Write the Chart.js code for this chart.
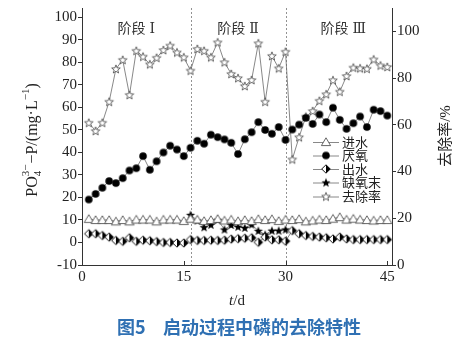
<!DOCTYPE html>
<html><head><meta charset="utf-8">
<script src="https://cdn.jsdelivr.net/npm/chart.js@4/dist/chart.umd.min.js"></script>
<style>html,body{margin:0;padding:0;background:#fff}#wrap{width:474px;height:343px;position:relative}</style>
</head><body><div id="wrap"><canvas id="c" width="474" height="343"></canvas></div>
<script>
// ---- data ----
const days = [1,2,3,4,5,6,7,8,9,10,11,12,13,14,15,16,17,18,19,20,21,22,23,24,25,26,27,28,29,30,31,32,33,34,35,36,37,38,39,40,41,42,43,44,45];
const influent = [10.5,10.0,10.0,10.0,9.4,10.0,9.4,10.2,10.2,10.2,9.4,10.2,10.2,10.2,9.6,10.6,10.2,9.6,10.0,10.5,9.8,10.2,9.5,10.0,9.6,10.4,10.0,10.4,9.6,10.2,10.0,10.4,9.4,9.8,10.2,10.0,10.6,11.3,10.2,10.6,10.2,10.0,9.8,10.0,10.0];
const anaerobic = [19.1,21.6,24.3,27.3,26.4,28.6,32.0,33.0,38.4,32.3,36.1,40.0,43.0,41.3,38.4,42.1,45.2,43.9,47.9,46.8,45.8,44.3,39.3,45.9,49.0,53.5,50.0,48.3,51.3,45.6,50.2,52.4,55.4,52.7,56.9,53.5,59.9,54.5,50.5,53.0,56.0,51.3,59.0,58.4,56.4];
const effluent = [3.9,3.9,3.1,2.4,0.9,0.5,2.1,0.5,1.0,0.8,0.4,0.0,0.0,-0.2,-0.2,1.3,0.9,0.9,1.0,0.9,1.0,1.5,1.7,1.9,2.1,0.1,2.4,1.2,1.2,0.6,5.3,3.9,3.1,2.7,2.4,2.1,1.6,2.4,1.6,1.3,1.3,1.3,1.3,1.3,1.3];
const anoxicDays = [16,17,18,19,20,21,22,23,24,25,26,27,28,29,30];
const anoxicEnd = [12.3,9.8,6.8,7.9,10.1,5.8,7.8,7.0,6.5,8.0,5.2,3.5,5.3,5.3,5.8];
const removal = [60.9,57.4,60.9,69.9,83.9,87.8,72.8,91.7,89.2,85.9,88.7,92.0,93.9,91.0,88.9,83.2,92.5,91.7,88.9,95.3,86.8,81.8,80.0,76.6,79.2,94.9,69.9,89.5,84.2,91.3,45.2,54.7,63.5,65.9,70.3,73.1,79.1,74.2,80.9,84.5,84.2,84.0,88.0,85.4,84.8];
const xTicks = [0,15,30,45];
const yLeftTicks = [-10,0,10,20,30,40,50,60,70,80,90,100];
const yRightTicks = [0,20,40,60,80,100];
const phaseBounds = [16,30];
const phaseWord = '阶段';
const phaseNums = ['Ⅰ','Ⅱ','Ⅲ'];
const phaseCenters = [8,23,38.5];
const seriesNames = ['进水','厌氧','出水','缺氧末','去除率'];
const leftTitle = ['PO','4','3−','−P/(mg·L','−1',')'];
const rightTitle = '去除率/%';
const xTitle = ['t','/d'];
const caption = ['图5','启动过程中磷的去除特性'];

// ---- marker images ----
function mk(size, fn){const c=document.createElement('canvas');c.width=c.height=size;const g=c.getContext('2d');fn(g,size/2);return c;}
function starPath(g,cx,cy,R,r){g.beginPath();for(let i=0;i<10;i++){const a=-Math.PI/2+i*Math.PI/5;const rr=i%2?r:R;const x=cx+rr*Math.cos(a),y=cy+rr*Math.sin(a);i?g.lineTo(x,y):g.moveTo(x,y);}g.closePath();}
const triImg = mk(12,(g,c)=>{g.beginPath();g.moveTo(c,c-4.2);g.lineTo(c+4.6,c+3.6);g.lineTo(c-4.6,c+3.6);g.closePath();g.fillStyle='#fff';g.fill();g.strokeStyle='#555';g.lineWidth=0.9;g.stroke();});
const circImg = mk(10,(g,c)=>{g.beginPath();g.arc(c,c,3.8,0,Math.PI*2);g.fillStyle='#000';g.fill();});
const diaImg = mk(12,(g,c)=>{g.beginPath();g.moveTo(c,c-4.2);g.lineTo(c+4.3,c);g.lineTo(c,c+4.2);g.lineTo(c-4.3,c);g.closePath();g.fillStyle='#fff';g.fill();
  g.beginPath();g.moveTo(c,c-4.2);g.lineTo(c+4.3,c);g.lineTo(c,c+4.2);g.closePath();g.fillStyle='#000';g.fill();
  g.beginPath();g.moveTo(c,c-4.2);g.lineTo(c+4.3,c);g.lineTo(c,c+4.2);g.lineTo(c-4.3,c);g.closePath();g.strokeStyle='#000';g.lineWidth=0.9;g.stroke();});
const fstarImg = mk(12,(g,c)=>{starPath(g,c,c+0.4,4.8,2.0);g.fillStyle='#000';g.fill();});
const ostarImg = mk(12,(g,c)=>{starPath(g,c,c+0.4,4.5,1.9);g.fillStyle='#fff';g.fill();g.strokeStyle='#444';g.lineWidth=0.8;g.stroke();});

const pts = (xs,ys)=>xs.map((x,i)=>({x:x,y:ys[i]}));
const lineCol = '#6a6a6a';
function ds(label,data,img,axis){return {label,data,yAxisID:axis,borderColor:lineCol,borderWidth:0.8,pointStyle:img,pointRadius:5,pointHoverRadius:5,tension:0,fill:false};}

const SERIF = "'Liberation Serif','Noto Sans CJK SC',serif";
const CJK = "'Noto Sans CJK SC','Liberation Serif',sans-serif";
const NUMF = "'DejaVu Serif','Liberation Serif','Noto Sans CJK SC',serif";

const deco = {
  id:'deco',
  beforeDatasetsDraw(chart){
    const g=chart.ctx, a=chart.chartArea, x=chart.scales.x;
    g.save();g.strokeStyle='#777';g.lineWidth=0.8;g.setLineDash([2,2]);
    phaseBounds.forEach(t=>{const px=Math.round(x.getPixelForValue(t))+0.5;g.beginPath();g.moveTo(px,a.top);g.lineTo(px,a.bottom);g.stroke();});
    g.restore();
  },
  afterDraw(chart){
    const g=chart.ctx, a=chart.chartArea, x=chart.scales.x;
    g.save();
    // inward x ticks
    g.strokeStyle='#333';g.lineWidth=1;
    xTicks.forEach(t=>{const px=Math.round(x.getPixelForValue(t))+0.5;g.beginPath();g.moveTo(px,a.bottom);g.lineTo(px,a.bottom-4);g.stroke();});
    // phase labels
    g.fillStyle='#333';g.textAlign='left';g.textBaseline='middle';
    phaseNums.forEach((n,i)=>{
      g.font='14px '+CJK;const ww=g.measureText(phaseWord).width;
      g.font='14px '+NUMF;const nw=g.measureText(n).width;
      const gap=4, sx=x.getPixelForValue(phaseCenters[i])-(ww+gap+nw)/2;
      g.font='14px '+CJK;g.fillText(phaseWord,sx,28);
      g.font='14px '+NUMF;g.fillText(n,sx+ww+gap,29);
    });
    // legend
    const imgs=[triImg,circImg,diaImg,fstarImg,ostarImg];
    const rows=[142,155.5,169,182.5,196.5];
    g.textAlign='left';g.font='13px '+CJK;g.fillStyle='#222';
    rows.forEach((y,i)=>{
      g.strokeStyle=lineCol;g.lineWidth=0.8;g.beginPath();g.moveTo(313,y+0.5);g.lineTo(339,y+0.5);g.stroke();
      const im=imgs[i];g.drawImage(im,326-im.width/2,y-im.height/2);
      g.fillText(seriesNames[i],342,y);
    });
    // left axis title
    g.save();g.translate(32,140);g.rotate(-Math.PI/2);
    const big='16px '+SERIF, small='11px '+SERIF;
    g.font=big;const w0=g.measureText(leftTitle[0]).width;
    g.font=small;const w1=Math.max(g.measureText(leftTitle[1]).width,g.measureText(leftTitle[2]).width);
    g.font=big;const w3=g.measureText(leftTitle[3]).width;
    g.font=small;const w4=g.measureText(leftTitle[4]).width;
    g.font=big;const w5=g.measureText(leftTitle[5]).width;
    const tot=w0+w1+w3+w4+w5+1;let cx=-tot/2;
    g.textAlign='left';g.textBaseline='alphabetic';g.fillStyle='#222';
    g.font=big;g.fillText(leftTitle[0],cx,5);cx+=w0;
    g.font=small;g.fillText(leftTitle[1],cx,9);g.fillText(leftTitle[2],cx,-3);cx+=w1+1;
    g.font=big;g.fillText(leftTitle[3],cx,5);cx+=w3;
    g.font=small;g.fillText(leftTitle[4],cx,-3);cx+=w4;
    g.font=big;g.fillText(leftTitle[5],cx,5);
    g.restore();
    // right axis title
    g.save();g.translate(446,136);g.rotate(-Math.PI/2);g.textAlign='center';g.textBaseline='middle';g.font='15px '+SERIF;g.fillStyle='#222';g.fillText(rightTitle,0,0);g.restore();
    // x title
    g.textBaseline='middle';g.font='italic 15px '+SERIF;const tw=g.measureText(xTitle[0]).width;g.font='15px '+SERIF;const dw=g.measureText(xTitle[1]).width;
    let sx=237-(tw+dw)/2;g.font='italic 15px '+SERIF;g.textAlign='left';g.fillText(xTitle[0],sx,301);g.font='15px '+SERIF;g.fillText(xTitle[1],sx+tw,301);
    // caption
    g.fillStyle='#2f70b3';g.font='bold 18px '+CJK;g.textAlign='left';g.fillText(caption[0],117,327);g.fillText(caption[1],163,327);
    g.restore();
  }
};

new Chart(document.getElementById('c'),{
  type:'line',
  data:{datasets:[
    ds(seriesNames[0],pts(days,influent),triImg,'y'),
    ds(seriesNames[1],pts(days,anaerobic),circImg,'y'),
    ds(seriesNames[2],pts(days,effluent),diaImg,'y'),
    ds(seriesNames[3],pts(anoxicDays,anoxicEnd),fstarImg,'y'),
    ds(seriesNames[4],pts(days,removal),ostarImg,'y2')
  ]},
  options:{
    responsive:false,animation:false,
    layout:{padding:{top:8,left:0,right:0,bottom:0}},
    plugins:{legend:{display:false},tooltip:{enabled:false}},
    scales:{
      x:{type:'linear',min:0,max:45.7,
        afterBuildTicks(s){s.ticks=xTicks.map(v=>({value:v}));},
        afterFit(s){s.height=78;s.paddingLeft=0;s.paddingRight=0;},
        grid:{display:false,drawTicks:false},border:{display:true,color:'#333',width:1},
        ticks:{color:'#222',font:{family:SERIF,size:15},padding:3,maxRotation:0}},
      y:{type:'linear',position:'left',min:-10,max:104.2,
        afterBuildTicks(s){s.ticks=yLeftTicks.map(v=>({value:v}));},
        afterFit(s){s.width=82;s.paddingTop=0;s.paddingBottom=0;},
        grid:{drawOnChartArea:false,tickLength:4,color:'#333'},border:{display:true,color:'#333',width:1},
        ticks:{color:'#222',font:{family:SERIF,size:15},padding:1}},
      y2:{type:'linear',position:'right',min:0,max:110,
        afterBuildTicks(s){s.ticks=yRightTicks.map(v=>({value:v}));},
        afterFit(s){s.width=82;s.paddingTop=0;s.paddingBottom=0;},
        grid:{drawOnChartArea:false,tickLength:4,color:'#333'},border:{display:true,color:'#333',width:1},
        ticks:{color:'#222',font:{family:SERIF,size:15},padding:1}}
    }
  },
  plugins:[deco]
});
</script>
</body></html>
